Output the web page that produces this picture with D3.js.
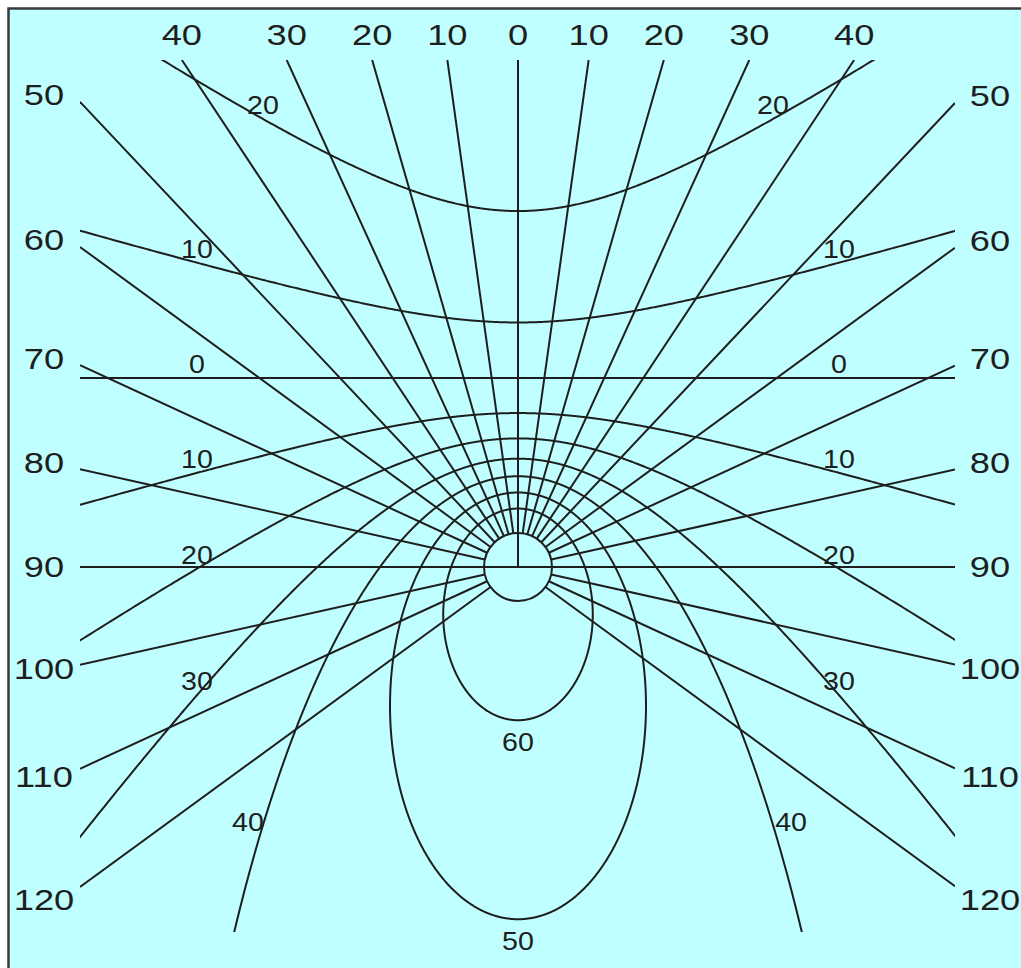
<!DOCTYPE html>
<html>
<head>
<meta charset="utf-8">
<script src="https://cdn.jsdelivr.net/npm/d3@7"></script>
<style>
  body { margin: 0; background: #fff; }
  svg { display: block; }
</style>
</head>
<body>
<div id="chart"></div>
<script>
// Horizontal sundial / gnomonic projection: hour lines and declination curves
const latitude = 52.2;
const hourAngles = [-120, -110, -100, -90, -80, -70, -60, -50, -40, -30, -20, -10, 0,
                    10, 20, 30, 40, 50, 60, 70, 80, 90, 100, 110, 120];
const declinations = [-20, -10, 0, 10, 20, 30, 40, 50, 60];
const hourLabels = hourAngles.map(h => String(Math.abs(h)));
const declinationLabels = declinations.map(d => String(Math.abs(d)));

const width = 1021, height = 968;
const poleX = 518, poleY = 567;   // where the hour lines meet
const unit = 91.5;                // px per gnomonic unit
const poleRadius = 34;
const box = { left: 80, right: 955, top: 60, bottom: 932 };
const bg = "#c0ffff", ink = "#1e1e1e";

const rad = Math.PI / 180;
const phi = latitude * rad;
const zenithY = poleY - unit / Math.tan(phi);

const x = d3.scaleLinear().domain([-1, 1]).range([poleX - unit, poleX + unit]);
const y = d3.scaleLinear().domain([-1, 1]).range([zenithY - unit, zenithY + unit]);

// project (hour angle, declination) to the plane, null when below horizon
function project(h, d) {
    h *= rad; d *= rad;
    const up = Math.sin(phi) * Math.sin(d) + Math.cos(phi) * Math.cos(d) * Math.cos(h);
    const north = Math.cos(phi) * Math.sin(d) - Math.sin(phi) * Math.cos(d) * Math.cos(h);
    const east = -Math.cos(d) * Math.sin(h);
    if (up < 0.01) return null;
    const X = east / up, Y = north / up;
    if (Math.abs(X) > 25 || Math.abs(Y) > 25) return null;
    return [x(X), y(Y)];
}

const svg = d3.select("#chart").append("svg")
    .attr("width", width)
    .attr("height", height);

// frame
svg.append("rect").attr("x", 8.5).attr("y", 8.5)
    .attr("width", width).attr("height", height)
    .attr("fill", bg).attr("stroke", "#3a3a3a").attr("stroke-width", 2.5);

svg.append("clipPath").attr("id", "plot")
    .append("rect")
    .attr("x", box.left).attr("y", box.top)
    .attr("width", box.right - box.left).attr("height", box.bottom - box.top);

const g = svg.append("g").attr("clip-path", "url(#plot)");

// hour lines
const P = [x(0), y(1 / Math.tan(phi))];
const rays = hourAngles.map(h => {
    const dx = -Math.sin(phi) * Math.sin(h * rad), dy = -Math.cos(h * rad);
    const len = Math.hypot(dx, dy);
    const ux = dx / len, uy = dy / len;
    let t = Infinity;
    if (ux > 1e-9) t = Math.min(t, (box.right - P[0]) / ux);
    if (ux < -1e-9) t = Math.min(t, (box.left - P[0]) / ux);
    if (uy > 1e-9) t = Math.min(t, (box.bottom - P[1]) / uy);
    if (uy < -1e-9) t = Math.min(t, (box.top - P[1]) / uy);
    const start = (h % 90 === 0) ? 0 : poleRadius;
    return { h, ux, uy, start, t, end: [P[0] + ux * t, P[1] + uy * t] };
});

g.selectAll(".hour")
    .data(rays)
    .enter()
    .append("line")
    .attr("class", "hour")
    .attr("x1", d => P[0] + d.ux * d.start)
    .attr("y1", d => P[1] + d.uy * d.start)
    .attr("x2", d => d.end[0])
    .attr("y2", d => d.end[1])
    .attr("stroke", ink)
    .attr("stroke-width", 2);

// declination curves
const hs = d3.range(-180, 180.001, 0.2);
const curves = declinations.map(d => ({ d, pts: hs.map(h => project(h, d)) }));
const line = d3.line().defined(p => p !== null).x(p => p[0]).y(p => p[1]);

g.selectAll(".dec")
    .data(curves)
    .enter()
    .append("path")
    .attr("class", "dec")
    .attr("d", c => line(c.pts))
    .attr("fill", "none")
    .attr("stroke", ink)
    .attr("stroke-width", 2);

svg.append("circle")
    .attr("cx", P[0]).attr("cy", P[1]).attr("r", poleRadius)
    .attr("fill", "none").attr("stroke", ink).attr("stroke-width", 2);

// labels
function label(tx, ty, text, size, sx) {
    svg.append("text")
        .attr("transform", `translate(${tx},${ty}) scale(${sx},1)`)
        .attr("text-anchor", "middle")
        .attr("dy", "0.36em")
        .attr("font-family", "'Liberation Sans', Arial, sans-serif")
        .attr("font-size", size)
        .attr("fill", ink)
        .text(text);
}

rays.forEach((r, i) => {
    const [ex, ey] = r.end;
    if (Math.abs(ey - box.top) < 0.5) {
        label(ex, 35, hourLabels[i], 29, 1.25);
    } else {
        const off = ey < poleY - 5 ? -7 : (ey - poleY) * 0.04;
        label(ex < poleX ? 44 : 990, ey + off, hourLabels[i], 29, 1.25);
    }
});

// find point on a curve (one side) where a coordinate crosses a value
function crossing(d, side, axis, value) {
    let prev = null;
    for (let h = 0; h <= 180; h += 0.1) {
        const p = project(side * h, d);
        if (p && prev && (prev[axis] - value) * (p[axis] - value) <= 0) {
            const f = (value - prev[axis]) / (p[axis] - prev[axis]);
            return [prev[0] + f * (p[0] - prev[0]), prev[1] + f * (p[1] - prev[1])];
        }
        prev = p;
    }
    return null;
}

declinations.forEach((d, i) => {
    const txt = declinationLabels[i];
    if (d >= 50) {
        const b = project(180, d);
        label(b[0], b[1] + 21, txt, 26, 1.1);
        return;
    }
    [1, -1].forEach(side => {
        if (d === 40) {
            const p = crossing(d, side, 1, 822);
            if (p) label(p[0] + (p[0] < poleX ? -16 : 19), 822, txt, 26, 1.1);
        } else {
            const off = d === -20 ? 255 : 321;
            const p = crossing(d, side, 0, poleX + (side > 0 ? -off : off));
            if (p) label(p[0], p[1] - 14, txt, 26, 1.1);
        }
    });
});
</script>
</body>
</html>
